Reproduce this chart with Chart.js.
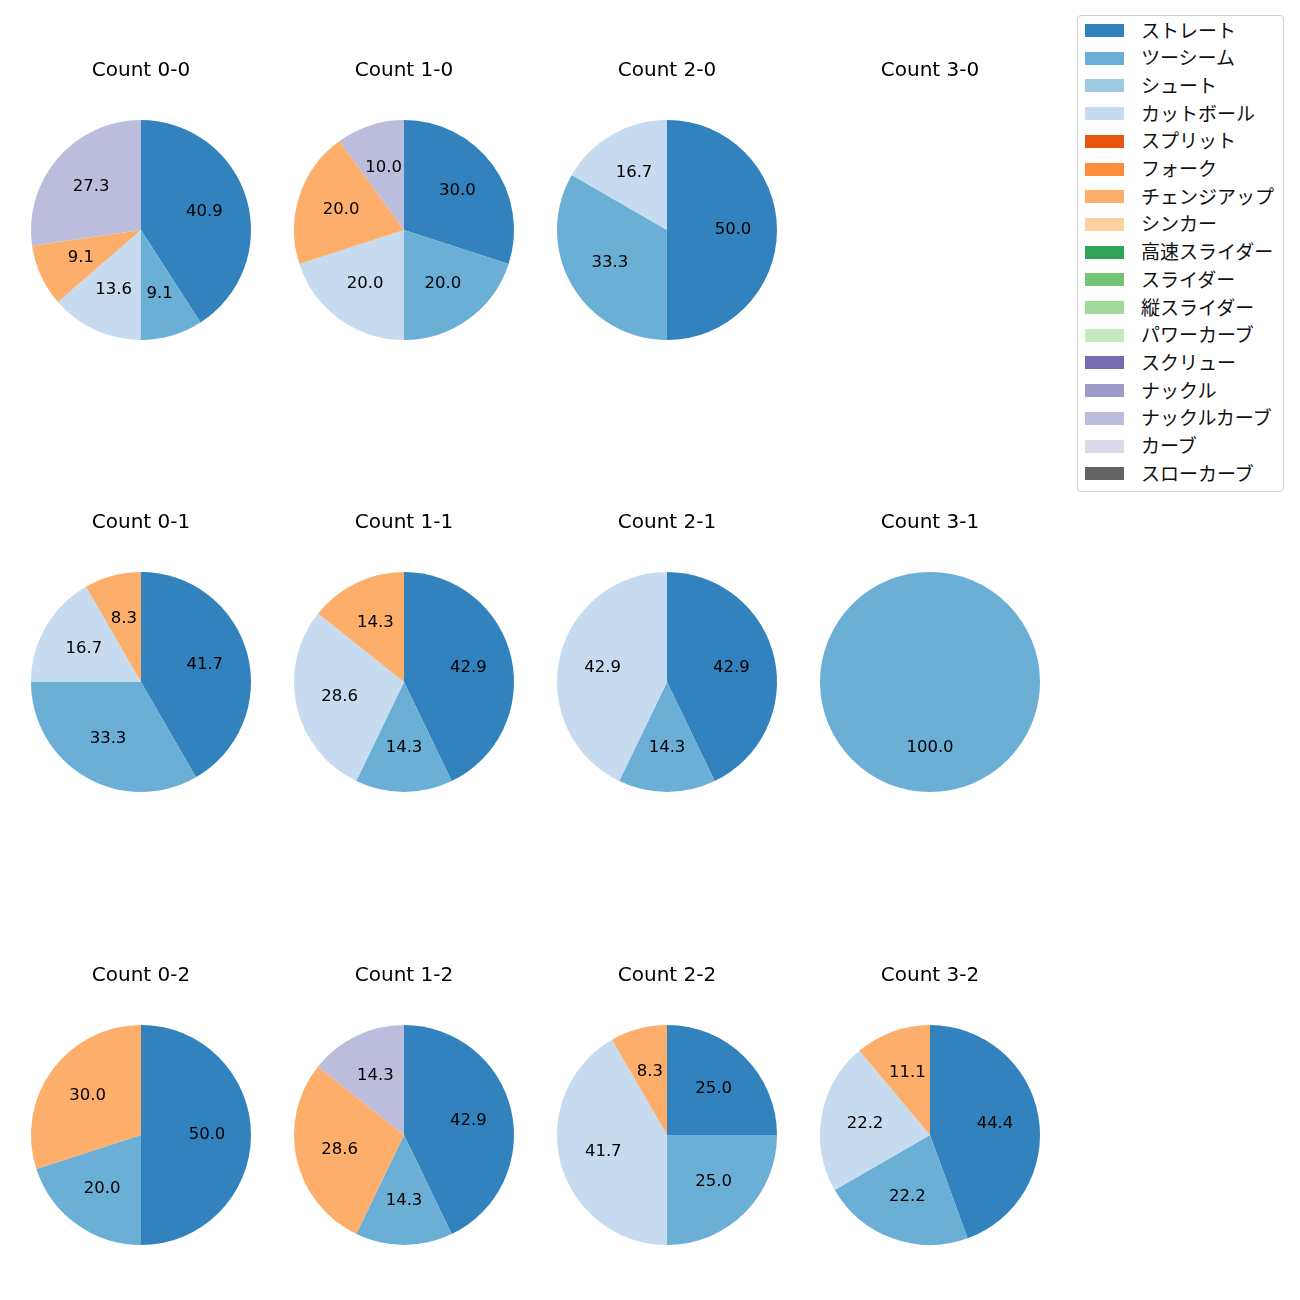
<!DOCTYPE html>
<html>
<head>
<meta charset="utf-8">
<script src="https://cdn.jsdelivr.net/npm/chart.js@4.4.0/dist/chart.umd.min.js"></script>
<style>
  html, body { margin: 0; padding: 0; background: #fff; }
  body { width: 1300px; height: 1300px; position: relative; overflow: hidden; font-family: "DejaVu Sans", "Noto Sans CJK JP", sans-serif; }
  canvas.pie { position: absolute; }
  #legend { position: absolute; left: 1077px; top: 15px; width: 207px; height: 477px; border: 1px solid #d0d0d0; border-radius: 4px; box-sizing: border-box; background: #fff; }
  .li { position: absolute; left: 0; height: 20px; }
  .sw { position: absolute; left: 7px; width: 39px; height: 13px; top: 3px; }
  .lt { position: absolute; left: 63px; top: -1.5px; font-size: 19px; color: #111; white-space: nowrap; line-height: 20px; font-family: "Noto Sans CJK JP", sans-serif; }
</style>
</head>
<body>
<div id="legend"></div>
<script>
// Pitch types (legend order)
const pitchTypes = ["ストレート","ツーシーム","シュート","カットボール","スプリット","フォーク","チェンジアップ","シンカー","高速スライダー","スライダー","縦スライダー","パワーカーブ","スクリュー","ナックル","ナックルカーブ","カーブ","スローカーブ"];
const pitchColors = ["#3182bd","#6baed6","#9ecae1","#c6dbef","#e6550d","#fd8d3c","#fdae6b","#fdd0a2","#31a354","#74c476","#a1d99b","#c7e9c0","#756bb1","#9e9ac8","#bcbddc","#dadaeb","#636363"];

// Counts (title labels)
const countTitles = ["Count 0-0","Count 1-0","Count 2-0","Count 3-0","Count 0-1","Count 1-1","Count 2-1","Count 3-1","Count 0-2","Count 1-2","Count 2-2","Count 3-2"];

// Pitch counts per ball-strike count, in pitchTypes order
const c00 = [9,2,0,3,0,0,2,0,0,0,0,0,0,0,6,0,0];
const c10 = [3,2,0,2,0,0,2,0,0,0,0,0,0,0,1,0,0];
const c20 = [3,2,0,1,0,0,0,0,0,0,0,0,0,0,0,0,0];
const c30 = [0,0,0,0,0,0,0,0,0,0,0,0,0,0,0,0,0];
const c01 = [5,4,0,2,0,0,1,0,0,0,0,0,0,0,0,0,0];
const c11 = [3,1,0,2,0,0,1,0,0,0,0,0,0,0,0,0,0];
const c21 = [3,1,0,3,0,0,0,0,0,0,0,0,0,0,0,0,0];
const c31 = [0,1,0,0,0,0,0,0,0,0,0,0,0,0,0,0,0];
const c02 = [5,2,0,0,0,0,3,0,0,0,0,0,0,0,0,0,0];
const c12 = [3,1,0,0,0,0,2,0,0,0,0,0,0,0,1,0,0];
const c22 = [3,3,0,5,0,0,1,0,0,0,0,0,0,0,0,0,0];
const c32 = [4,2,0,2,0,0,1,0,0,0,0,0,0,0,0,0,0];
const countData = [c00,c10,c20,c30,c01,c11,c21,c31,c02,c12,c22,c32];

// Layout
const colX = [141, 404, 667, 930];
const rowY = [230, 682, 1135];
const R = 110;
const CW = 260, TOP = 180, BOT = 120;

// Legend (HTML)
const leg = document.getElementById('legend');
pitchTypes.forEach((p, i) => {
  const d = document.createElement('div');
  d.className = 'li';
  d.style.top = (5 + i * 27.7) + 'px';
  d.innerHTML = '<div class="sw" style="background:' + pitchColors[i] + '"></div><div class="lt">' + p + '</div>';
  leg.appendChild(d);
});

const labelPlugin = {
  id: 'pctLabels',
  afterDatasetsDraw(chart) {
    const ctx = chart.ctx;
    const meta = chart.getDatasetMeta(0);
    const data = chart.data.datasets[0].data;
    const total = data.reduce((a, b) => a + b, 0);
    ctx.save();
    ctx.font = '16.5px "DejaVu Sans", sans-serif';
    ctx.fillStyle = '#000';
    ctx.textAlign = 'center';
    ctx.textBaseline = 'middle';
    meta.data.forEach((arc, i) => {
      if (!data[i]) return;
      const a = (arc.startAngle + arc.endAngle) / 2;
      const r = arc.outerRadius * 0.6;
      const x = arc.x + Math.cos(a) * r;
      const y = arc.y + Math.sin(a) * r;
      ctx.fillText((data[i] / total * 100).toFixed(1), x, y);
    });
    ctx.restore();
  }
};
const titlePlugin = {
  id: 'fixedTitle',
  afterDraw(chart) {
    const ctx = chart.ctx;
    ctx.save();
    ctx.font = '20px "DejaVu Sans", sans-serif';
    ctx.fillStyle = '#000';
    ctx.textAlign = 'center';
    ctx.textBaseline = 'middle';
    ctx.fillText(chart.options.plugins.fixedTitle.text, CW / 2, TOP - 159.5);
    ctx.restore();
  }
};

countData.forEach((vals, k) => {
  const col = k % 4, row = Math.floor(k / 4);
  const cv = document.createElement('canvas');
  cv.className = 'pie';
  cv.width = CW; cv.height = TOP + BOT;
  cv.style.left = (colX[col] - CW / 2) + 'px';
  cv.style.top = (rowY[row] - TOP) + 'px';
  cv.style.width = CW + 'px'; cv.style.height = (TOP + BOT) + 'px';
  document.body.appendChild(cv);
  new Chart(cv, {
    type: 'pie',
    data: {
      labels: pitchTypes,
      datasets: [{ data: vals, backgroundColor: pitchColors, borderWidth: 0 }]
    },
    options: {
      responsive: false,
      animation: false,
      devicePixelRatio: 1,
      layout: { padding: { top: TOP - R, bottom: BOT - R, left: CW / 2 - R, right: CW / 2 - R } },
      plugins: {
        legend: { display: false },
        tooltip: { enabled: false },
        fixedTitle: { text: countTitles[k] }
      }
    },
    plugins: [labelPlugin, titlePlugin]
  });
});
</script>
</body>
</html>
